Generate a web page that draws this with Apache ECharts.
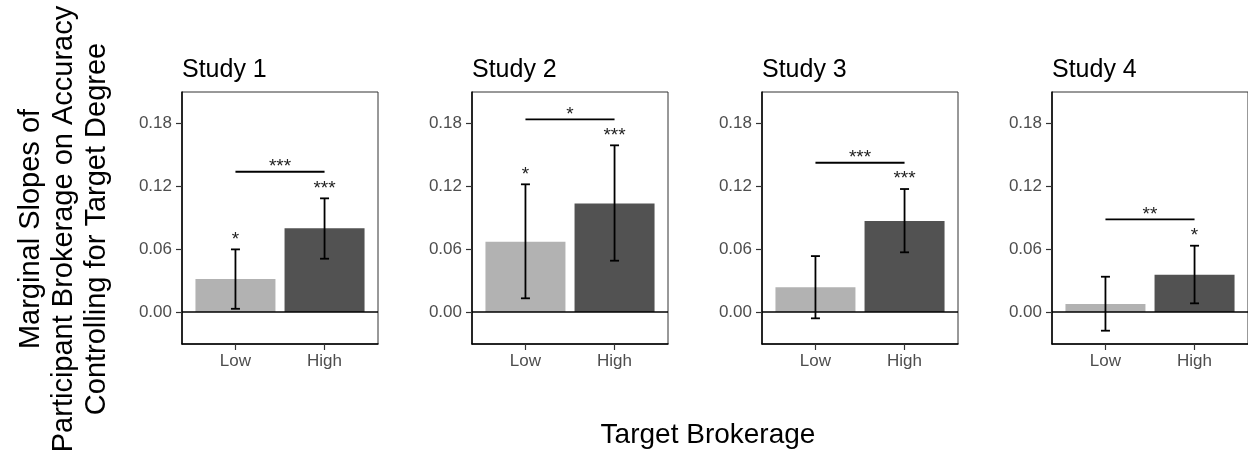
<!DOCTYPE html>
<html>
<head>
    <meta charset="utf-8">
    <title>Marginal slopes by study</title>
    <script src="https://cdn.jsdelivr.net/npm/echarts@6/dist/echarts.min.js"></script>
    <style>
        html, body { margin: 0; padding: 0; background: #fff; }
        #chart { width: 1248px; height: 457px; }
    </style>
</head>
<body>
<div id="chart"></div>
<script>
    // data
    var studies = ['Study 1', 'Study 2', 'Study 3', 'Study 4'];
    var levels = ['Low', 'High'];
    var lowMean  = [0.0315, 0.0671, 0.0236, 0.0076];
    var lowLower = [0.0031, 0.0131, -0.0060, -0.0178];
    var lowUpper = [0.0598, 0.1219, 0.0534, 0.0337];
    var highMean  = [0.0799, 0.1037, 0.0868, 0.0356];
    var highLower = [0.0509, 0.0490, 0.0570, 0.0083];
    var highUpper = [0.1085, 0.1591, 0.1174, 0.0633];
    var lowStars  = ['*', '*', '', ''];
    var highStars = ['***', '***', '***', '*'];
    var bracketY     = [0.1339, 0.1839, 0.1425, 0.0885];
    var bracketStars = ['***', '*', '***', '**'];
    var yTicks = [0, 0.06, 0.12, 0.18];

    var font = 'Liberation Sans, Arial, Helvetica, sans-serif';
    var lowColor = '#b2b2b2', highColor = '#525252';

    // panel layout (px)
    var gridLeft0 = 182, gridStep = 290, gridWidth = 196, gridTop = 92, gridHeight = 252;

    var myChart = echarts.init(document.getElementById('chart'), null, {renderer: 'canvas'});

    var grids = [], xAxes = [], yAxes = [], series = [], titles = [];

    studies.forEach(function (name, i) {
        var left = gridLeft0 + i * gridStep;
        grids.push({
            left: left, top: gridTop, width: gridWidth, height: gridHeight,
            show: true, borderColor: '#333', borderWidth: 1, backgroundColor: 'transparent'
        });
        titles.push({
            text: name, left: left, top: 58, padding: 0,
            textStyle: {fontFamily: font, fontSize: 25, fontWeight: 'normal', color: '#000'}
        });
        xAxes.push({
            type: 'value', gridIndex: i, min: 0.4, max: 2.6,
            splitLine: {show: false},
            axisLine: {show: true, onZero: false, lineStyle: {color: '#000', width: 1.5}},
            axisTick: {show: true, length: 6, customValues: [1, 2], lineStyle: {color: '#333', width: 1.2}},
            axisLabel: {
                customValues: [1, 2], margin: 9,
                fontFamily: font, fontSize: 17, color: '#4d4d4d',
                formatter: function (v) { return levels[Math.round(v) - 1]; }
            }
        });
        yAxes.push({
            type: 'value', gridIndex: i, min: -0.0305, max: 0.21,
            splitLine: {show: false},
            axisLine: {show: true, onZero: false, lineStyle: {color: '#000', width: 1.5}},
            axisTick: {show: true, length: 6, customValues: yTicks, lineStyle: {color: '#333', width: 1.2}},
            axisLabel: {
                customValues: yTicks, margin: 10,
                fontFamily: font, fontSize: 17, color: '#4d4d4d',
                formatter: function (v) { return v.toFixed(2); }
            }
        });

        series.push({
            type: 'bar', xAxisIndex: i, yAxisIndex: i, barWidth: 80,
            data: [
                {value: [1, lowMean[i]], itemStyle: {color: lowColor}},
                {value: [2, highMean[i]], itemStyle: {color: highColor}}
            ],
            markLine: {
                silent: true, symbol: 'none', label: {show: false},
                lineStyle: {color: '#000', width: 1.5, type: 'solid'},
                data: [{yAxis: 0}]
            },
            z: 2
        });

        // error bars with significance stars above them
        series.push({
            type: 'custom', xAxisIndex: i, yAxisIndex: i, clip: false, z: 5,
            data: [
                [1, lowLower[i], lowUpper[i]],
                [2, highLower[i], highUpper[i]]
            ],
            renderItem: function (params, api) {
                var x = api.value(0);
                var lo = api.coord([x, api.value(1)]);
                var hi = api.coord([x, api.value(2)]);
                var cap = 4.5;
                var st = {stroke: '#000', lineWidth: 1.8};
                var label = params.dataIndex === 0 ? lowStars[i] : highStars[i];
                return {
                    type: 'group',
                    children: [
                        {type: 'line', shape: {x1: hi[0], y1: hi[1], x2: lo[0], y2: lo[1]}, style: st},
                        {type: 'line', shape: {x1: hi[0] - cap, y1: hi[1], x2: hi[0] + cap, y2: hi[1]}, style: st},
                        {type: 'line', shape: {x1: lo[0] - cap, y1: lo[1], x2: lo[0] + cap, y2: lo[1]}, style: st},
                        {type: 'text', style: {
                            text: label, x: hi[0], y: hi[1] - 10,
                            textAlign: 'center', textVerticalAlign: 'middle',
                            font: '19px ' + font, fill: '#222'
                        }}
                    ]
                };
            }
        });

        // comparison bracket between Low and High
        series.push({
            type: 'custom', xAxisIndex: i, yAxisIndex: i, clip: false, z: 5,
            data: [[1, 2, bracketY[i]]],
            renderItem: function (params, api) {
                var a = api.coord([api.value(0), api.value(2)]);
                var b = api.coord([api.value(1), api.value(2)]);
                return {
                    type: 'group',
                    children: [
                        {type: 'line', shape: {x1: a[0], y1: a[1], x2: b[0], y2: b[1]}, style: {stroke: '#000', lineWidth: 1.8}},
                        {type: 'text', style: {
                            text: bracketStars[i], x: (a[0] + b[0]) / 2, y: a[1] - 5,
                            textAlign: 'center', textVerticalAlign: 'middle',
                            font: '19px ' + font, fill: '#222'
                        }}
                    ]
                };
            }
        });
    });

    myChart.setOption({
        animation: false,
        title: titles,
        grid: grids,
        xAxis: xAxes,
        yAxis: yAxes,
        series: series,
        graphic: [
            {
                type: 'text', x: 64, y: 229, rotation: Math.PI / 2,
                style: {
                    text: 'Marginal Slopes of\nParticipant Brokerage on Accuracy\nControlling for Target Degree',
                    font: '29px ' + font, fill: '#000', lineHeight: 33,
                    textAlign: 'center', textVerticalAlign: 'middle'
                }
            },
            {
                type: 'text', x: 708, y: 435,
                style: {
                    text: 'Target Brokerage', font: '28px ' + font, fill: '#000',
                    textAlign: 'center', textVerticalAlign: 'middle'
                }
            }
        ]
    });
</script>
</body>
</html>
